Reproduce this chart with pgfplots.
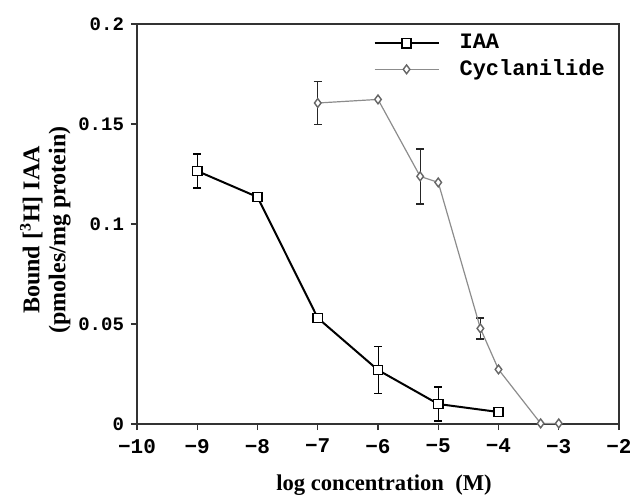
\documentclass[border=0pt]{standalone}
\usepackage{fontspec}
\setmainfont{Liberation Serif}
\setmonofont{Liberation Mono}
\usepackage{pgfplots}
\pgfplotsset{compat=1.18}
\definecolor{cyc}{gray}{0.55}
\begin{document}
\begin{tikzpicture}
\begin{axis}[
  scale only axis, width=241pt, height=200pt,
  xmin=-10, xmax=-2, ymin=0, ymax=0.2,
  xtick={-10,-9,...,-2},
  xticklabels={−10,−9,−8,−7,−6,−5,−4,−3,−2},
  ytick={0,0.05,0.1,0.15,0.2},
  yticklabels={0,0.05,0.1,0.15,0.2},
  xticklabel style={font=\fontsize{10.5}{12}\ttfamily\bfseries, yshift=-1pt},
  yticklabel style={font=\fontsize{9.5}{11}\ttfamily\bfseries},
  tick align=outside, tick pos=left,
  major tick length=3pt,
  axis line style={line width=0.75pt, black!80},
  every tick/.style={line width=0.7pt, black!80},
  xlabel={log concentration\ \ (M)},
  xlabel style={font=\fontsize{11.3}{13}\selectfont\bfseries, at={(axis description cs:0.5,0)}, anchor=center, yshift=-30.5pt, xshift=3pt},
  ylabel={Bound [\textsuperscript{3}H] IAA\\(pmoles/mg protein)},
  ylabel style={font=\fontsize{12}{13}\selectfont\bfseries, align=center, at={(axis description cs:-0.19,0.485)}, anchor=center},
  legend style={at={(axis description cs:0.49,0.985)}, anchor=north west, draw=none, fill=none, inner sep=0pt,
    font=\fontsize{11}{12}\ttfamily\bfseries, row sep=0pt, column sep=8pt, cells={anchor=west}},
  legend image code/.code={\draw[mark repeat=2,mark phase=2,#1] plot coordinates {(0pt,0pt) (16pt,0pt) (32pt,0pt)};},
  clip=false,
]
% error bars (drawn first, beneath markers)
\addplot[black, line width=0.7pt, draw=none, mark=none, forget plot,
  error bars/.cd, y dir=both, y explicit, error mark options={rotate=90, black, mark size=2pt, line width=0.7pt}]
  table[x=x, y=y, y error=e] {
  x y e
  -9 0.1265 0.0085
  -6 0.0270 0.0117
  -5 0.0100 0.0085
  };
\addplot[black!85, line width=0.7pt, draw=none, mark=none, forget plot,
  error bars/.cd, y dir=both, y explicit, error mark options={rotate=90, black!85, mark size=2pt, line width=0.7pt}]
  table[x=x, y=y, y error=e] {
  x y e
  -7 0.1605 0.0107
  -5.3 0.1238 0.0138
  -4.3 0.0478 0.0053
  };
\addplot[black, line width=1pt, mark=square*, mark size=2.3pt, mark options={fill=white, draw=black, line width=0.8pt}]
  coordinates {(-9,0.1265) (-8,0.1135) (-7,0.0530) (-6,0.0270) (-5,0.0100) (-4,0.0060)};
\addlegendentry{IAA}
\addplot[cyc, line width=0.6pt, mark=diamond*, mark size=2.2pt, mark options={fill=white, draw=black!60, line width=0.7pt}]
  coordinates {(-7,0.1605) (-6,0.1623) (-5.3,0.1238) (-5,0.1208) (-4.3,0.0478) (-4,0.0273) (-3.3,0.0003) (-3,0.0003)};
\addlegendentry{Cyclanilide}
\end{axis}
\pgfresetboundingbox
\path (-68.5pt,-35.5pt) rectangle (246.5pt,212pt);
\end{tikzpicture}
\end{document}
